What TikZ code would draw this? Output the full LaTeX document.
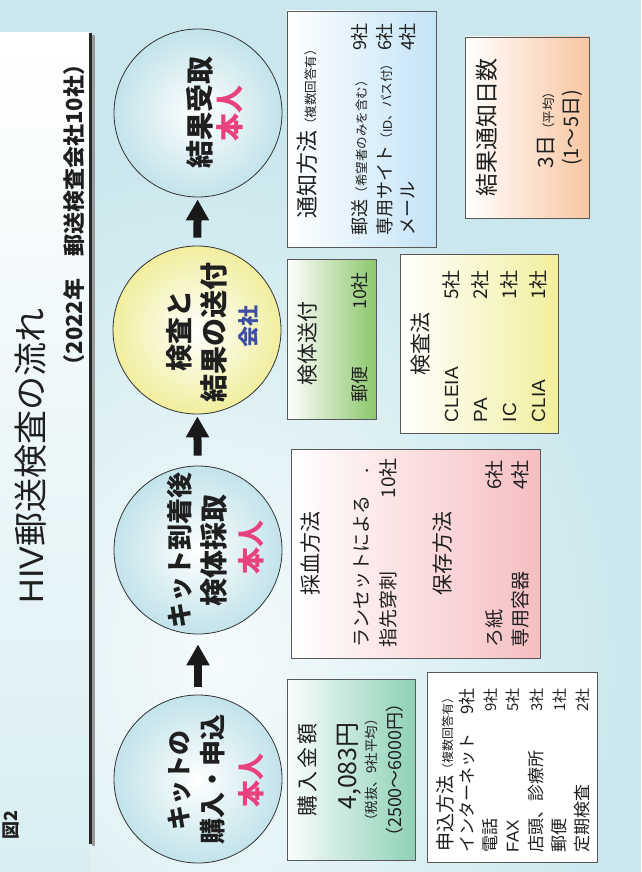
\documentclass[tikz,border=0pt]{standalone}
\usepackage{fontspec}
\setmainfont{Noto Sans CJK JP}
\newfontfamily\hv{Liberation Sans}
\usetikzlibrary{arrows.meta}
\definecolor{bgcyan}{HTML}{CAE7ED}
\definecolor{bglight}{HTML}{F5FBFC}
\definecolor{panelbot}{HTML}{D8EEF2}
\definecolor{circcyan}{HTML}{C2E3EA}
\definecolor{circyel}{HTML}{F1EE9E}
\definecolor{pinktxt}{HTML}{E8417E}
\definecolor{bluetxt}{HTML}{3D4FA5}
\definecolor{boxblue}{HTML}{C3E3F6}
\definecolor{boxpeach}{HTML}{F8C6A2}
\definecolor{boxgreen}{HTML}{8BC76C}
\definecolor{boxyellow}{HTML}{F2EF9C}
\definecolor{boxpink}{HTML}{F6BEC1}
\definecolor{boxteal}{HTML}{8ED1B7}
\newcommand\fsz[1]{\fontsize{#1}{#1}\selectfont}
\newcommand\lr[3]{\hbox to #1{#2\hfill #3}}
\begin{document}
\begin{tikzpicture}[x=1pt,y=-1pt,
  tx/.style={rotate=90, inner sep=0pt, text=black!88},
  circ/.style={circle, draw=black!80, line width=0.8pt, minimum size=168pt, inner sep=0pt},
  box/.style={rectangle, draw=black!65, line width=0.8pt, inner sep=0pt},
  flow/.style={line width=8pt, draw=black!90, -{Triangle[width=22pt,length=21pt]}}]

\useasboundingbox (0,0) rectangle (641,872);
% background
\fill[bgcyan] (0,0) rectangle (641,872);
\begin{scope}
\clip (0,0) rectangle (641,872);
\shade[inner color=bglight, outer color=bgcyan] (220,660) ellipse [x radius=420, y radius=520];
\end{scope}
% title panel
\shade[top color=white, bottom color=panelbot] (0,33) rectangle (90,872);
\draw[line width=2.5pt, black!40] (93.5,35) -- (93.5,846);
\draw[line width=3pt, black!85] (90.5,33) -- (90.5,844);

\node[tx, font=\fsz{34}] (title) at (31,456) {{\hv HIV}郵送検査の流れ};
\node[tx, font=\bfseries\fsz{22}] (sub) at (74,215) {（2022年　郵送検査会社10社）};
\node[tx, font=\bfseries\fsz{18}] (fig) at (11,825) {図2};

% circles
\node[circ, inner color=white, outer color=circcyan] (c1) at (198,113) {};
\node[circ, inner color=white, outer color=circyel] (c2) at (197,330) {};
\node[circ, inner color=white, outer color=circcyan] (c3) at (198,550) {};
\node[circ, inner color=white, outer color=circcyan] (c4) at (198,779) {};

\node[tx, font=\bfseries\fsz{28}] (c1a) at (200,112) {結果受取};
\node[tx, font=\bfseries\fsz{28}, text=pinktxt] (c1b) at (230,114) {本人};

\node[tx, font=\bfseries\fsz{27}] (c2a) at (179,331) {検査と};
\node[tx, font=\bfseries\fsz{28}] (c2b) at (214,332) {結果の送付};
\node[tx, font=\bfseries\fsz{21}, text=bluetxt] (c2c) at (249,326) {会社};

\node[tx, font=\bfseries\fsz{26}] (c3a) at (180,550) {キット到着後};
\node[tx, font=\bfseries\fsz{28}] (c3b) at (214,550) {検体採取};
\node[tx, font=\bfseries\fsz{27}, text=pinktxt] (c3c) at (251,547) {本人};

\node[tx, font=\bfseries\fsz{25}] (c4a) at (179,780) {キットの};
\node[tx, font=\bfseries\fsz{26}] (c4b) at (213,779) {購入・申込};
\node[tx, font=\bfseries\fsz{27}, text=pinktxt] (c4c) at (251,780) {本人};

% arrows
\draw[flow, shorten <=8pt, shorten >=2pt] (c2) -- (c1);
\draw[flow, shorten <=10pt, shorten >=2pt] (c3) -- (c2);
\draw[flow, shorten <=8pt, shorten >=10pt] (c4) -- (c3);

% boxes
\node[box, minimum width=149pt, minimum height=236pt, left color=white, right color=boxblue] (b1) at (361.5,129) {};
\node[box, minimum width=124pt, minimum height=181pt, left color=white, right color=boxpeach] (b2) at (527,127.5) {};
\node[box, minimum width=89pt, minimum height=160pt, left color=white, right color=boxgreen] (b3) at (331.5,339) {};
\node[box, minimum width=158pt, minimum height=179pt, left color=white, right color=boxyellow] (b4) at (479,343.5) {};
\node[box, minimum width=249pt, minimum height=209pt, left color=white, right color=boxpink] (b5) at (415.5,553.5) {};
\node[box, minimum width=128pt, minimum height=181pt, left color=white!95!boxteal, right color=boxteal] (b6) at (351,769.5) {};
\node[box, minimum width=170pt, minimum height=190pt, fill=white] (b7) at (512,767) {};

% box 1 text
\node[tx] (b1a) at (307,131) {{\fsz{22}通知方法}{\fsz{12.5}（複数回答有）}};
\node[tx, font=\fsz{18}] (b1b) at (360,129) {\lr{212pt}{郵送{\fsz{12.5}（希望者のみを含む）}}{9社}};
\node[tx, font=\fsz{18}] (b1c) at (385,129) {\lr{212pt}{専用サイト{\fsz{12.5}（{\hv ID}、パス付）}}{6社}};
\node[tx, font=\fsz{18}] (b1d) at (408,129) {\lr{212pt}{メール}{4社}};

% box 2 text
\node[tx, font=\fsz{23}] (b2a) at (487,127) {結果通知日数};
\node[tx] (b2b) at (546,127) {{\fsz{21}3日}{\fsz{12.5}（平均）}};
\node[tx, font=\fsz{20}] (b2c) at (572,128) {(1〜5日)};

% box 3 text
\node[tx, font=\fsz{21}] (b3a) at (308,343) {検体送付};
\node[tx, font=\fsz{18}] (b3b) at (360,337) {\lr{130pt}{郵便}{10社}};

% box 4 text
\node[tx, font=\fsz{21}] (b4a) at (421,344) {検査法};
\node[tx, font=\fsz{19}] (b4b) at (451,346) {\lr{152pt}{{\hv CLEIA}}{5社}};
\node[tx, font=\fsz{19}] (b4c) at (480,346) {\lr{152pt}{{\hv PA}}{2社}};
\node[tx, font=\fsz{19}] (b4d) at (509,346) {\lr{152pt}{{\hv IC}}{1社}};
\node[tx, font=\fsz{19}] (b4e) at (538,346) {\lr{152pt}{{\hv CLIA}}{1社}};

% box 5 text
\node[tx, font=\fsz{21}] (b5a) at (311,553) {採血方法};
\node[tx, font=\fsz{19}] (b5b) at (362,552.5) {\lr{189pt}{ランセットによる}{.\kern10pt}};
\node[tx, font=\fsz{19}] (b5c) at (388,552.5) {\lr{189pt}{指先穿刺}{10社}};
\node[tx, font=\fsz{21}] (b5d) at (443,553) {保存方法};
\node[tx, font=\fsz{19}] (b5e) at (494,553.5) {\lr{187pt}{ろ紙}{6社}};
\node[tx, font=\fsz{19}] (b5f) at (520,553.5) {\lr{187pt}{専用容器}{4社}};

% box 6 text
\node[tx, font=\fsz{21}] (b6a) at (308,770) {購\kern3pt 入\kern3pt 金\kern3pt 額};
\node[tx, font=\fsz{25}] (b6b) at (349,766) {4,083円};
\node[tx, font=\fsz{13.5}] (b6c) at (371,770) {（税抜、9社平均）};
\node[tx, font=\fsz{18}] (b6d) at (395,770) {（2500〜6000円）};

% box 7 text
\node[tx, anchor=west] (b7a) at (445,852) {{\fsz{19}申込方法}{\fsz{12}（複数回答有）}};
\node[tx, font=\fsz{17}] (b7b) at (467,770) {\lr{164pt}{インターネット}{9社}};
\node[tx, font=\fsz{17}] (b7c) at (490,770) {\lr{164pt}{電話}{\fsz{15}9社}};
\node[tx, font=\fsz{17}] (b7d) at (513,770) {\lr{164pt}{{\hv FAX}}{\fsz{15}5社}};
\node[tx, font=\fsz{17}] (b7e) at (536,770) {\lr{164pt}{店頭、診療所}{\fsz{15}3社}};
\node[tx, font=\fsz{17}] (b7f) at (559,770) {\lr{164pt}{郵便}{\fsz{15}1社}};
\node[tx, font=\fsz{17}] (b7g) at (582,770) {\lr{164pt}{定期検査}{\fsz{15}2社}};
\end{tikzpicture}
\end{document}
